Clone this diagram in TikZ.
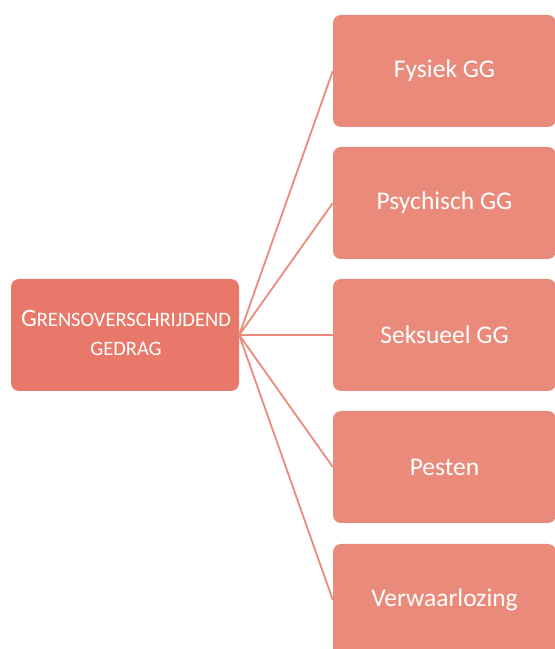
\documentclass[tikz,border=0pt]{standalone}
\usepackage{fontspec}
\setmainfont{Carlito}
\definecolor{mainbox}{HTML}{E8796A}
\definecolor{subbox}{HTML}{EA8A7A}
\definecolor{linkcol}{HTML}{EB8B7B}
\begin{document}
\begin{tikzpicture}[x=1pt,y=1pt,
  mainnode/.style={draw=none,fill=mainbox,rounded corners=8pt,minimum width=228pt,minimum height=112pt,inner sep=0pt,text=white},
  maintext/.style={text=white,align=center,inner sep=0pt,font=\fontsize{20.5}{29}\selectfont},
  subnode/.style={draw=none,fill=subbox,rounded corners=8pt,minimum width=223pt,minimum height=112pt,inner sep=0pt,text=white,font=\fontsize{25.5}{30}\selectfont},
  link/.style={draw=linkcol,line width=1.8pt}]
\useasboundingbox (0,0) rectangle (555,649);
\clip (0,0) rectangle (555,649);
\node[mainnode] (m) at (125,314) {};
\node[maintext] (mt) at (126,316) {{\fontsize{25}{29}\selectfont G}RENSOVERSCHRIJDEND\\GEDRAG};
\node[subnode] (a) at (444.5,578) {Fysiek GG};
\node[subnode] (b) at (444.5,446) {Psychisch GG};
\node[subnode] (c) at (444.5,314) {Seksueel GG};
\node[subnode] (d) at (444.5,182) {Pesten};
\node[subnode] (e) at (444.5,49) {Verwaarlozing};
\foreach \t in {a,b,c,d,e}{
  \draw[link] (m.east) -- (\t.west);
}
\end{tikzpicture}
\end{document}
